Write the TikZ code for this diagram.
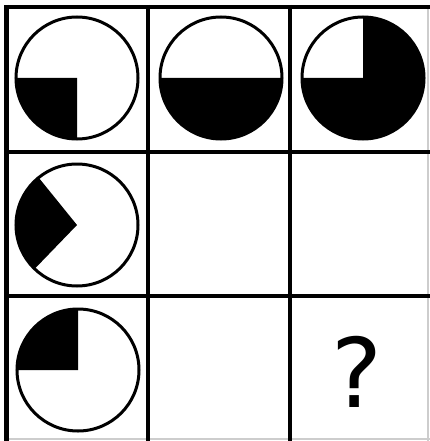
\documentclass[tikz,border=0pt]{standalone}
\usepackage{fontspec}
\newfontfamily\qfont{DejaVu Sans}
\usepackage{tikz}
\definecolor{inkblack}{RGB}{0,0,0}
\definecolor{faintgrey}{RGB}{205,205,205}
\tikzset{
  gridline/.style ={draw=inkblack, line width=4.5pt},
  edgeline/.style ={draw=faintgrey, line width=1.2pt},
  ring/.style     ={draw=inkblack, line width=3pt},
  wedge/.style    ={fill=inkblack},
}

\begin{document}
\begin{tikzpicture}[x=1pt,y=-1pt]
\useasboundingbox (0,0) rectangle (430,441);
\fill[white] (0,0) rectangle (430,441);
% ---------- grid ----------
\draw[edgeline] (428,7) -- (428,441);
\draw[edgeline] (6.5,439) -- (430,439);
\foreach \y in {7,152,296}{
  \draw[gridline] (4.3,\y) -- (430,\y);
}
\foreach \x in {6.5,148,290}{
  \draw[gridline] (\x,4.8) -- (\x,441);
}

% ---------- circles with black sectors ----------
\foreach \cx/\cy/\a/\b in {77/78/90/180, 221/78/0/180, 363/78/270/540,
                           77/225/134/231, 78/370/180/270}{
  \fill[wedge] (\cx,\cy) -- ++(\a:61) arc[start angle=\a, end angle=\b, radius=61] -- cycle;
  \draw[ring] (\cx,\cy) circle[radius=61];
}

% ---------- missing cell ----------
\node[font=\qfont\fontsize{96}{96}\selectfont, inner sep=0pt] (qmark) at (357,372) {?};
\end{tikzpicture}
\end{document}
